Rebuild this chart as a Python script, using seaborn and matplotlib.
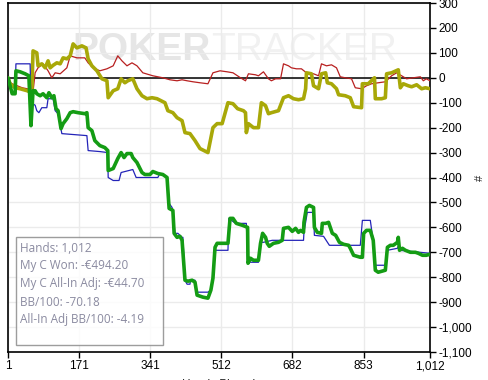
import matplotlib
matplotlib.use("Agg")
import matplotlib.pyplot as plt
import matplotlib.ticker as mticker
from matplotlib.patches import Rectangle
import seaborn as sns
import pandas as pd

# ---- data (hand number, cumulative value) ----
green_hands = [1, 11, 18, 20, 30, 42, 51, 56, 61, 66, 70, 78, 85, 94, 99, 106, 111, 116, 121, 128,
               133, 142, 150, 157, 169, 185, 190, 193, 202, 209, 221, 233, 240, 241, 253, 264, 272,
               279, 286, 296, 300, 310, 322, 329, 341, 348, 360, 372, 382, 387, 396, 399, 406, 413,
               418, 425, 432, 442, 449, 454, 468, 480, 487, 492, 497, 502, 528, 533, 540, 548, 563,
               575, 576, 582, 589, 601, 606, 611, 618, 622, 627, 637, 649, 658, 661, 673, 682, 690,
               697, 702, 709, 710, 716, 723, 733, 735, 742, 752, 754, 762, 769, 773, 778, 786, 795,
               805, 817, 821, 829, 845, 850, 853, 860, 869, 874, 876, 881, 888, 905, 910, 917, 924,
               934, 936, 939, 946, 953, 965, 977, 984, 994, 1003, 1012]
green_vals = [0, -64, -64, 28, 24, 16, 8, -192, -52, -52, -64, -72, -64, -80, -60, -80, -72, -124, -132, -204,
              -184, -164, -140, -136, -140, -144, -140, -200, -212, -252, -272, -280, -292, -372, -364, -324, -300,
              -320, -304, -304, -320, -340, -380, -388, -388, -376, -384, -388, -400, -524, -532, -624, -640, -636,
              -652, -812, -816, -812, -820, -872, -880, -884, -852, -804, -680, -664, -664, -564, -564, -584, -592,
              -600, -744, -724, -732, -732, -664, -624, -640, -664, -676, -664, -660, -652, -604, -600, -616, -604,
              -620, -612, -620, -580, -520, -512, -520, -600, -620, -624, -584, -584, -580, -600, -624, -632, -660,
              -668, -672, -684, -712, -720, -720, -624, -612, -612, -640, -652, -772, -780, -772, -680, -672, -672,
              -660, -640, -692, -684, -692, -700, -700, -704, -712, -712, -708]

blue_hands = [1, 11, 18, 20, 54, 56, 66, 70, 75, 82, 94, 97, 109, 114, 121, 130, 190, 193, 221, 240,
              241, 253, 267, 272, 300, 308, 341, 360, 365, 372, 382, 387, 394, 396, 401, 408, 418, 420,
              425, 430, 437, 438, 449, 454, 480, 487, 492, 497, 528, 530, 546, 572, 575, 582, 601, 606,
              613, 634, 709, 710, 718, 733, 735, 757, 771, 845, 850, 869, 874, 876, 881, 905, 910, 934,
              936, 939, 1012]
blue_vals = [0, -64, -64, 56, 56, -100, -110, -132, -140, -120, -120, -84, -84, -132, -144, -224, -232, -292, -296, -300,
             -400, -412, -412, -380, -368, -400, -400, -400, -384, -388, -400, -504, -520, -532, -624, -624, -640, -640,
             -812, -828, -828, -812, -812, -860, -860, -852, -804, -692, -692, -564, -584, -584, -732, -740, -740, -660,
             -660, -652, -652, -620, -540, -540, -632, -636, -672, -672, -572, -572, -632, -640, -752, -752, -692, -684,
             -676, -692, -704]

red_hands = [1, 11, 23, 35, 47, 61, 66, 73, 85, 97, 106, 114, 126, 142, 150, 166, 185, 193, 205, 221,
             238, 253, 264, 274, 286, 298, 310, 324, 348, 372, 389, 406, 418, 430, 444, 461, 480, 492,
             509, 526, 540, 558, 570, 577, 594, 601, 613, 625, 632, 642, 654, 661, 673, 680, 692, 704,
             716, 733, 745, 752, 764, 776, 788, 797, 809, 824, 833, 848, 860, 872, 888, 905, 920, 932,
             944, 956, 972, 989, 996, 1003, 1012]
red_vals = [-12, -24, -32, -40, -44, -56, 20, 40, 56, 28, 0, 20, 16, 40, 88, 80, 80, 60, 40, 28,
            36, 48, 88, 68, 48, 60, 48, 20, 8, 0, -8, -12, -8, -12, -16, -20, -24, 20,
            28, 24, 20, 0, -12, 16, 12, 8, 24, -4, -12, -4, -4, 56, 48, 40, 36, 36,
            20, 16, 8, 56, 48, 52, 40, 4, 0, -4, -40, -44, -32, -24, -20, -16, 8, 20,
            8, -4, 0, 4, -12, -4, -12]

olive_hands = [1, 6, 18, 30, 47, 58, 61, 70, 73, 82, 90, 97, 102, 109, 118, 126, 133, 142, 150, 157,
               166, 178, 188, 193, 202, 214, 226, 238, 241, 253, 264, 272, 281, 288, 300, 310, 322, 334,
               346, 358, 377, 384, 396, 406, 418, 425, 437, 449, 461, 480, 492, 502, 514, 528, 540, 551,
               565, 570, 572, 577, 589, 601, 608, 618, 625, 632, 649, 661, 673, 685, 697, 709, 714, 716,
               728, 733, 745, 752, 762, 766, 776, 788, 793, 809, 821, 829, 848, 850, 864, 879, 881, 896,
               905, 908, 920, 936, 941, 948, 960, 968, 980, 992, 1001, 1012]
olive_vals = [0, -24, -40, -44, -52, -60, 108, 100, 48, 56, 40, 68, 40, 50, 60, 56, 80, 76, 88, 136,
              120, 128, 120, 76, 48, 28, -4, -12, -80, -52, -44, -4, -20, -12, -4, -44, -72, -84,
              -80, -84, -100, -132, -140, -160, -172, -220, -224, -252, -284, -300, -200, -184, -184, -100, -104, -124,
              -132, -140, -220, -184, -200, -200, -100, -112, -144, -140, -132, -80, -72, -84, -88, -84, -44, 20,
              16, -32, -44, 16, 20, -20, -24, -44, -68, -72, -80, -116, -120, -24, -24, 0, -84, -84,
              -80, 16, 20, 32, -40, -24, -32, -36, -28, -44, -40, -44]

x_ticks = [1, 171, 341, 512, 682, 853, 1012]
y_ticks = list(range(-1100, 301, 100))
stats_lines = ["Hands: 1,012", "My C Won: -€494.20", "My C All-In Adj: -€44.70",
               "BB/100: -70.18", "All-In Adj BB/100: -4.19"]

sns.set_theme(style="white")
plt.rcParams['font.family'] = ['Liberation Sans', 'DejaVu Sans']

fig = plt.figure(figsize=(4.88, 3.80), dpi=100)
ax = fig.add_axes([8 / 488, 28 / 380, 422 / 488, 349 / 380])

# watermark
wm_family = ["Liberation Sans Narrow", "Liberation Sans"]
t1 = ax.text((72 - 8) / 422, 0.865, "POKER", transform=ax.transAxes, fontsize=28, fontweight="bold",
             color="#e6e6e6", ha="left", va="center", zorder=0, family=wm_family)
fig.canvas.draw()
bb = t1.get_window_extent(renderer=fig.canvas.get_renderer())
x_end = ax.transAxes.inverted().transform((bb.x1 + 1, bb.y0))[0]
ax.text(x_end, 0.865, "TRACKER", transform=ax.transAxes, fontsize=28,
        color="#f1f1f1", ha="left", va="center", zorder=0, family=wm_family)

ax.axhline(0, color="black", lw=1.1, zorder=1)

def draw(h, v, color, lw, z):
    df = pd.DataFrame({"hand": h, "value": v})
    sns.lineplot(data=df, x="hand", y="value", ax=ax, color=color, lw=lw,
                 zorder=z, sort=False, estimator=None)

draw(red_hands, red_vals, "#b82020", 0.9, 3)
draw(olive_hands, olive_vals, "#a8a808", 2.6, 4)
draw(blue_hands, blue_vals, "#2424b8", 0.9, 5)
draw(green_hands, green_vals, "#149c14", 2.6, 6)

ax.set_xlim(1, 1012)
ax.set_ylim(-1100, 300)
ax.set_xticks(x_ticks)
ax.set_yticks(y_ticks)
ax.xaxis.set_major_formatter(mticker.FuncFormatter(lambda v, p: f"{int(v):,}"))
ax.yaxis.set_major_formatter(mticker.FuncFormatter(lambda v, p: f"{int(v):,}"))
ax.yaxis.tick_right()
ax.tick_params(axis="both", which="major", labelsize=8.5, colors="black", length=4,
               width=1, direction="out", bottom=True, right=True, left=False, pad=2)
ax.grid(True, color="#ebebeb", lw=1)
ax.set_axisbelow(True)
for s in ax.spines.values():
    s.set_color("black")
    s.set_linewidth(1.2)
    s.set_visible(True)
ax.set_xlabel("Hands Played", fontsize=8.5, labelpad=5)
ax.set_ylabel("")
fig.text(480 / 488, 1 - 178 / 380, "#", rotation=90, fontsize=8, ha="center", va="center")

# stats box
ax.add_patch(Rectangle(((16 - 8) / 422, (352 - 345) / 349), 147 / 422, 108 / 349,
                       transform=ax.transAxes, facecolor="white", edgecolor="#8c8c8c",
                       lw=1, alpha=0.85, zorder=7))
for i, t in enumerate(stats_lines):
    ax.text((20 - 8) / 422, (352 - 248) / 349 - i * 18 / 349, t, transform=ax.transAxes,
            fontsize=8.5, color="#8a8aa0", ha="left", va="center", zorder=8,
            family=["Open Sans", "DejaVu Sans"])

fig.savefig("out.png", dpi=100)
